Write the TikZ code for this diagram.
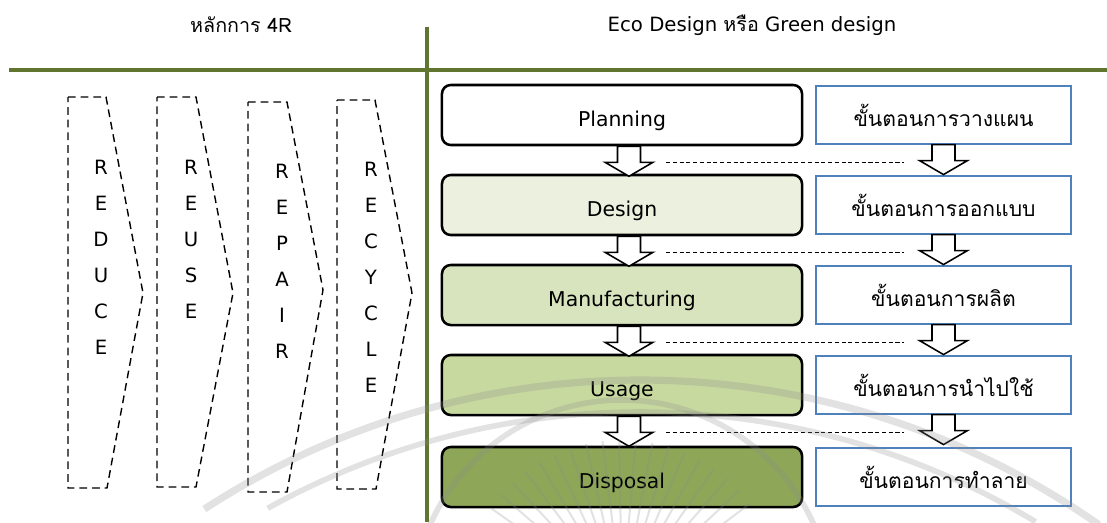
\documentclass[tikz,border=0pt]{standalone}
\usepackage{fontspec}
\usepackage{tikz}
\usetikzlibrary{calc}
\setmainfont{DejaVu Sans}
\newfontfamily\thaifont[Script=Thai]{Loma}

\definecolor{rulegreen}{RGB}{96,118,48}
\definecolor{stageA}{RGB}{235,241,222}
\definecolor{stageB}{RGB}{216,228,190}
\definecolor{stageC}{RGB}{200,217,160}
\definecolor{stageD}{RGB}{141,166,88}
\definecolor{thborder}{RGB}{79,129,189}

% open down arrow hanging under a box
\newcommand{\hollowdown}[1]{\draw[hollow] (#1) ++(-11.5,0) -- ++(0,16) -- ++(-12.5,0) -- ++(24,14) -- ++(24,-14) -- ++(-12.5,0) -- ++(0,-16) -- cycle;}

\begin{document}
\begin{tikzpicture}[x=0.025cm, y=-0.025cm,
  heading/.style={font=\fontsize{14}{17}\selectfont},
  stage/.style={draw, line width=1.8pt, rounded corners=0.22cm, minimum width=9cm, minimum height=1.5cm, text height=17pt, text depth=0pt, font=\fontsize{14.5}{17}\selectfont},
  thbox/.style={draw=thborder, line width=0.8pt, fill=white, minimum width=6.375cm, minimum height=1.45cm, font=\thaifont\fontsize{15}{18}\selectfont},
  chevron/.style={line width=1pt, dash pattern=on 5.5pt off 3.5pt},
  letters/.style={align=center, font=\fontsize{14}{25.6}\selectfont},
  hollow/.style={draw, fill=white, line width=1.1pt, line join=miter},
  link/.style={line width=1pt, dash pattern=on 3pt off 1.8pt},
  rule/.style={rulegreen, line width=2.2pt},
  watermark/.style={black!45, opacity=0.25}]
\useasboundingbox (0,0) rectangle (1107,522);

% headings and dividing lines
\node[heading] (fourR) at (241,25) {\thaifont หลักการ 4R};
\node[heading] (eco) at (752,25) {Eco Design {\thaifont หรือ} Green design};
\draw[rule] (9,70) -- (1107,70);
\draw[rule] (427,27) -- (427,522);

% the 4R chevrons
\draw[chevron] (68,97) -- (106,97) -- (143,293) -- (107,488) -- (68,488) -- cycle;
\node[letters] (reduce) at (101,257) {R\\E\\D\\U\\C\\E};
\draw[chevron] (157,97) -- (196,97) -- (233,293) -- (196,487) -- (157,487) -- cycle;
\node[letters] (reuse) at (191,239) {R\\E\\U\\S\\E};
\draw[chevron] (248,102) -- (287,102) -- (323,290) -- (287,492) -- (248,492) -- cycle;
\node[letters] (repair) at (282,261) {R\\E\\P\\A\\I\\R};
\draw[chevron] (337,100) -- (375,100) -- (412,293) -- (376,489) -- (337,489) -- cycle;
\node[letters] (recycle) at (371,277) {R\\E\\C\\Y\\C\\L\\E};

% life cycle stages
\node[stage, fill=white] (plan) at (622,115) {Planning};
\node[stage, fill=stageA] (design) at (622,205) {Design};
\node[stage, fill=stageB] (manu) at (622,295) {Manufacturing};
\node[stage, fill=stageC] (usage) at (622,385) {Usage};
\node[stage, fill=stageD] (disp) at (622,477) {Disposal};

\node[thbox] (planth) at (943.5,115) {ขั้นตอนการวางแผน};
\node[thbox] (designth) at (943.5,205) {ขั้นตอนการออกแบบ};
\node[thbox] (manuth) at (943.5,295) {ขั้นตอนการผลิต};
\node[thbox] (usageth) at (943.5,385) {ขั้นตอนการนำไปใช้};
\node[thbox] (dispth) at (943.5,477) {ขั้นตอนการทำลาย};

% arrows between stages
\hollowdown{$(plan.south)+(7,0)$}
\hollowdown{$(design.south)+(7,0)$}
\hollowdown{$(manu.south)+(7,0)$}
\hollowdown{$(usage.south)+(7,0)$}
\hollowdown{planth.south}
\hollowdown{designth.south}
\hollowdown{manuth.south}
\hollowdown{usageth.south}
\draw[link] ($(plan.south)+(44,16)$) -- ($(plan.south -| planth.south)+(-40,16)$);
\draw[link] ($(design.south)+(44,16)$) -- ($(design.south -| designth.south)+(-40,16)$);
\draw[link] ($(manu.south)+(44,16)$) -- ($(manu.south -| manuth.south)+(-40,16)$);
\draw[link] ($(usage.south)+(44,16)$) -- ($(usage.south -| usageth.south)+(-40,16)$);

% faint seal in the background
\begin{scope}
\clip (0,0) rectangle (1107,522);
\draw[watermark, line width=0.18cm] (640,1180) ++(237:800) arc (237:305:800);
\draw[watermark, line width=0.14cm] (640,1180) ++(241:768) arc (241:301:768);
\draw[watermark, line width=0.14cm] (622,610) ++(200:210) arc (200:340:210);
\foreach \a in {215,221,...,325}
  \draw[watermark, line width=0.05cm] (622,600) ++(\a:70) -- ++(\a:90);
\end{scope}
\end{tikzpicture}
\end{document}
